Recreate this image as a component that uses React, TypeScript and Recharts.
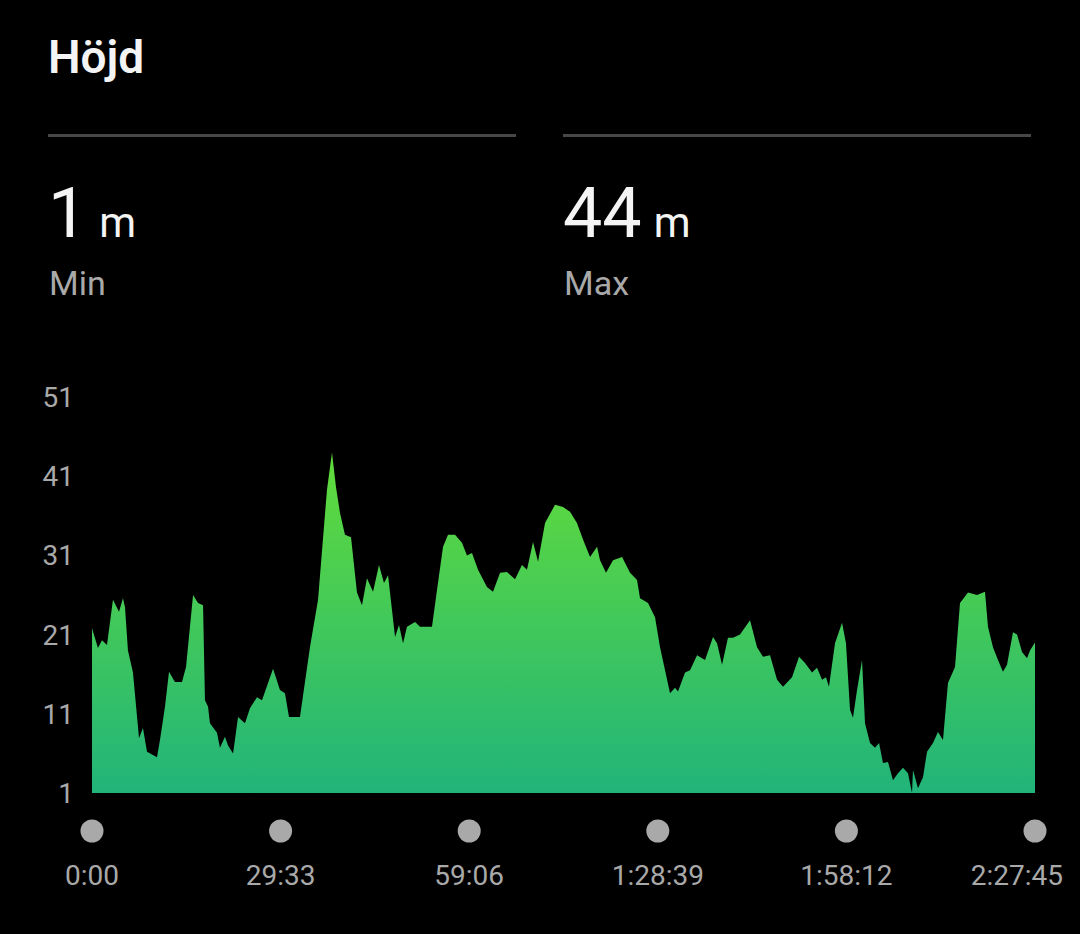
import React from "react"
import { AreaChart, Area, XAxis, YAxis } from "recharts"

// elapsed time (seconds) and altitude (m)
const elapsedSec = [
  0, 56, 94, 141, 197, 254, 291, 310, 338, 385, 442, 479, 517, 611, 639, 686, 724, 780, 846, 884,
  950, 997, 1044, 1062, 1091, 1109, 1175, 1203, 1250, 1279, 1326, 1373, 1438, 1485, 1551, 1598, 1702, 1767, 1814, 1852,
  1955, 2049, 2125, 2209, 2256, 2294, 2331, 2378, 2435, 2491, 2538, 2585, 2642, 2698, 2745, 2783, 2849, 2886, 2924, 2961,
  3037, 3084, 3196, 3243, 3300, 3347, 3413, 3478, 3525, 3572, 3629, 3713, 3770, 3836, 3901, 3977, 4042, 4089, 4146, 4193,
  4259, 4353, 4428, 4494, 4559, 4616, 4682, 4748, 4776, 4832, 4898, 4983, 5058, 5124, 5152, 5227, 5293, 5340, 5387, 5434,
  5481, 5509, 5575, 5622, 5688, 5763, 5838, 5876, 5923, 5979, 6026, 6092, 6186, 6252, 6308, 6374, 6440, 6496, 6581, 6647,
  6703, 6769, 6816, 6863, 6900, 6928, 6985, 7051, 7088, 7126, 7154, 7192, 7239, 7267, 7314, 7361, 7399, 7436, 7483, 7530,
  7577, 7624, 7671, 7709, 7718, 7765, 7812, 7850, 7906, 7953, 8000, 8047, 8113, 8160, 8235, 8320, 8395, 8423, 8470, 8517,
  8564, 8602, 8658, 8696, 8743, 8790, 8818, 8865,
]

const altitudeM = [
  21.8, 19.3, 20.3, 19.7, 25.4, 23.9, 25.6, 24.5, 19, 16.2, 7.9, 9.2, 6.2, 5.5, 7.7, 11.9, 16.3, 15, 15, 16.9,
  26, 25, 24.7, 12.7, 11.9, 9.8, 8.6, 6.7, 8.1, 7, 6, 10.6, 9.8, 11.7, 13.1, 12.7, 16.7, 14, 13.6, 10.6,
  10.6, 19.4, 25.4, 39.3, 44, 39.6, 36.4, 33.6, 33.3, 26.3, 24.7, 28.1, 26.4, 29.8, 27.5, 28.5, 20.7, 22.2, 19.9, 22,
  22.6, 22, 22, 26.6, 32.1, 33.6, 33.6, 32.6, 31, 31.3, 29.2, 27, 26.4, 28.8, 28.9, 28, 29.8, 29.2, 32.7, 30.2,
  35.1, 37.4, 37.1, 36.5, 35.1, 33, 30.8, 32.1, 30.4, 28.8, 30.4, 30.8, 28.8, 27.9, 25.6, 25, 23.2, 19.4, 16.5, 13.6,
  14.3, 13.8, 16.2, 16.5, 18.4, 17.8, 20.7, 19.9, 17.2, 20.6, 20.6, 21, 22.8, 19.4, 18.2, 18.4, 15.3, 14.4, 15.6, 18.2,
  17.4, 16.2, 16.8, 15.3, 15.6, 14.4, 19.9, 22.5, 19.9, 11.5, 10.5, 14, 17.8, 9.8, 7.3, 6.7, 7.3, 4.8, 4.9, 2.6,
  3.5, 4.2, 3.5, 1, 3.9, 1.6, 3, 6.2, 7.3, 8.7, 7.7, 14.9, 16.9, 25, 26.3, 26, 26.4, 22, 19.4, 17.8,
  16.3, 17.2, 21.3, 21, 18.8, 18, 19, 20,
]

const xTicks = [0, 1773, 3546, 5319, 7092, 8865]
const xTickLabels = ["0:00", "29:33", "59:06", "1:28:39", "1:58:12", "2:27:45"]
const yTicks = [1, 11, 21, 31, 41, 51]

const minAlt = "1"
const maxAlt = "44"

const rows = elapsedSec.map((t, i) => ({ t, alt: altitudeM[i] }))

const FONT = "Roboto, 'Noto Sans', sans-serif"
const GREY = "#a9a9a9"

function TimeTick(props: any) {
  const { x, y, index } = props
  const last = index === xTickLabels.length - 1
  return (
    <g>
      <circle cx={x} cy={y + 38} r={11.5} fill={GREY} />
      <text
        x={last ? x + 28 : x}
        y={y + 92}
        textAnchor={last ? "end" : "middle"}
        fill={GREY}
        fontSize={28}
        fontFamily={FONT}
      >
        {xTickLabels[index]}
      </text>
    </g>
  )
}

function Stat({ left, value, label }: { left: number; value: string; label: string }) {
  return (
    <>
      <div style={{ position: "absolute", left, top: 134, width: 468, height: 3, background: "#474747" }} />
      <div
        style={{
          position: "absolute",
          left,
          top: 178,
          fontSize: 70,
          lineHeight: "70px",
          color: "#f4f4f4",
          whiteSpace: "nowrap",
        }}
      >
        {value}
        <span style={{ fontSize: 42, marginLeft: 12 }}>m</span>
      </div>
      <div
        style={{
          position: "absolute",
          left: left + 1,
          top: 266,
          fontSize: 34,
          lineHeight: "34px",
          color: GREY,
        }}
      >
        {label}
      </div>
    </>
  )
}

export default function App() {
  return (
    <div
      style={{
        position: "absolute",
        left: 0,
        top: 0,
        width: 1080,
        height: 934,
        background: "#000",
        fontFamily: FONT,
        overflow: "hidden",
      }}
    >
      <AreaChart width={1080} height={934} data={rows} margin={{ top: 397, right: 45, left: 32, bottom: 41 }}>
        <defs>
          <linearGradient id="altFill" x1="0" y1="0" x2="0" y2="1">
            <stop offset="0%" stopColor="#62dc3a" />
            <stop offset="100%" stopColor="#21b47a" />
          </linearGradient>
        </defs>
        <XAxis
          dataKey="t"
          type="number"
          domain={[0, 8865]}
          ticks={xTicks}
          interval={0}
          axisLine={false}
          tickLine={false}
          tickSize={0}
          tickMargin={0}
          height={100}
          tick={<TimeTick />}
        />
        <YAxis
          domain={[1, 51]}
          ticks={yTicks}
          interval={0}
          axisLine={false}
          tickLine={false}
          tickSize={0}
          tickMargin={18}
          width={60}
          tick={{ fill: GREY, fontSize: 28, fontFamily: FONT }}
        />
        <Area
          type="linear"
          dataKey="alt"
          stroke="none"
          fill="url(#altFill)"
          fillOpacity={1}
          dot={false}
          activeDot={false}
          isAnimationActive={false}
        />
      </AreaChart>

      <div
        style={{
          position: "absolute",
          left: 48,
          top: 34,
          fontSize: 46,
          lineHeight: "46px",
          fontWeight: 600,
          color: "#f4f4f4",
        }}
      >
        Höjd
      </div>
      <Stat left={48} value={minAlt} label="Min" />
      <Stat left={563} value={maxAlt} label="Max" />
    </div>
  )
}
